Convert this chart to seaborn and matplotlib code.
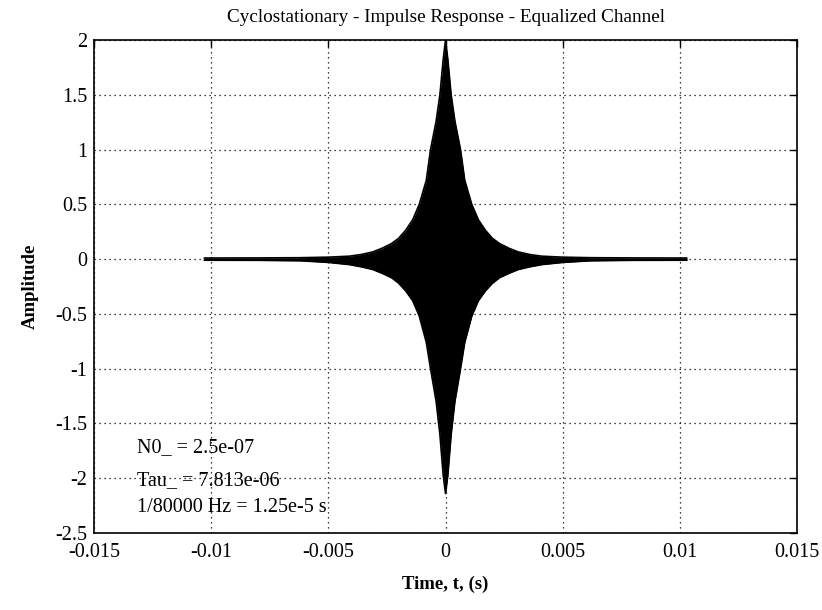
import numpy as np
import pandas as pd
import matplotlib
matplotlib.use('Agg')
import matplotlib.pyplot as plt
import seaborn as sns

#
# Data (envelope of the impulse response)
#

# time from the peak, s (one side, mirrored below)
t_half = [0.0, 0.0001, 0.00024, 0.0004, 0.00064, 0.00082, 0.00112, 0.0014,
          0.0017, 0.002, 0.0023, 0.0027, 0.0031, 0.0036, 0.0041, 0.005,
          0.0062, 0.008, 0.0103]
env_upper = [2.0, 1.82, 1.5, 1.26, 1.0, 0.72, 0.5, 0.36,
             0.264, 0.19, 0.143, 0.1, 0.066, 0.042, 0.027, 0.018,
             0.013, 0.011, 0.01]
env_lower = [-2.14, -1.97, -1.6, -1.3, -1.0, -0.76, -0.52, -0.38,
             -0.29, -0.22, -0.17, -0.13, -0.095, -0.07, -0.05, -0.03,
             -0.015, -0.011, -0.01]

x_ticks = [-0.015, -0.01, -0.005, 0, 0.005, 0.01, 0.015]
x_labels = ['-0.015', '-0.01', '-0.005', '0', '0.005', '0.01', '0.015']
y_ticks = [-2.5, -2, -1.5, -1, -0.5, 0, 0.5, 1, 1.5, 2]
y_labels = ['-2.5', '-2', '-1.5', '-1', '-0.5', '0', '0.5', '1', '1.5', '2']

notes = ['N0_ = 2.5e-07', 'Tau_ = 7.813e-06', '1/80000 Hz = 1.25e-5 s']
notes_y = [-1.72, -2.02, -2.27]

# mirror to both sides of t = 0
t = [-v for v in t_half[::-1]] + t_half[1:]
up = env_upper[::-1] + env_upper[1:]
lo = env_lower[::-1] + env_lower[1:]
df = pd.DataFrame({'t': t + t, 'amp': up + lo,
                   'edge': ['upper'] * len(t) + ['lower'] * len(t)})

#
# Plot
#

sns.set_theme(style='white')
plt.rcParams['font.family'] = ['Liberation Serif', 'DejaVu Serif']
plt.rcParams['text.color'] = 'black'
plt.rcParams['axes.labelcolor'] = 'black'

fig, ax = plt.subplots(figsize=(8.22, 6.10), dpi=100)
fig.subplots_adjust(left=0.1144, right=0.9696, top=0.9344, bottom=0.1262)

ax.fill_between(t, lo, up, color='black', linewidth=0)
sns.lineplot(data=df, x='t', y='amp', units='edge', estimator=None,
             color='black', linewidth=1.2, ax=ax, legend=False)

ax.set_xlim(-0.015, 0.015)
ax.set_ylim(-2.5, 2)
ax.set_xticks(x_ticks)
ax.set_xticklabels(x_labels)
ax.set_yticks(y_ticks)
ax.set_yticklabels(y_labels)
ax.tick_params(direction='in', length=5, width=1, top=True, right=True,
               labelsize=14.5, pad=5, colors='black')
ax.tick_params(axis='x', pad=7)
for s in ax.spines.values():
    s.set_color('black')
    s.set_linewidth(1.2)

ax.grid(True, color='black', linestyle=(0, (1, 3)), linewidth=0.9)
ax.set_axisbelow(True)

ax.set_title('Cyclostationary - Impulse Response - Equalized Channel',
             fontsize=13.8, pad=13)
ax.set_xlabel('Time, t, (s)', fontsize=13.5, fontweight='bold', labelpad=10)
ax.set_ylabel('Amplitude', fontsize=13.5, fontweight='bold', labelpad=12)

for txt, yy in zip(notes, notes_y):
    ax.text(-0.01317, yy, txt, fontsize=14.5, va='center', ha='left')

plt.savefig('out.png', dpi=100)
